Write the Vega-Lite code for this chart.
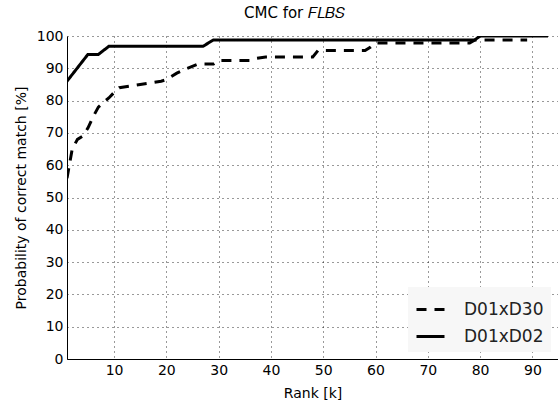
{
  "$schema": "https://vega.github.io/schema/vega-lite/v6.json",
  "autosize": {"type": "none"},
  "padding": {"left": 67, "top": 36, "right": 0, "bottom": 43},
  "width": 491,
  "height": 323,
  "background": "white",
  "title": {
    "text": "CMC for  𝐹𝐿𝐵𝑆",
    "font": "DejaVu Sans",
    "fontSize": 15,
    "fontWeight": "normal",
    "color": "black",
    "offset": 8,
    "dx": -18
  },
  "data": {
    "values": [
      {"rank": 1, "p": 56, "s": "D01xD30"},
      {"rank": 2, "p": 65, "s": "D01xD30"},
      {"rank": 3, "p": 68, "s": "D01xD30"},
      {"rank": 4, "p": 69, "s": "D01xD30"},
      {"rank": 5, "p": 71.5, "s": "D01xD30"},
      {"rank": 6, "p": 75, "s": "D01xD30"},
      {"rank": 7, "p": 78, "s": "D01xD30"},
      {"rank": 8, "p": 79.5, "s": "D01xD30"},
      {"rank": 9, "p": 80.8, "s": "D01xD30"},
      {"rank": 10, "p": 82.5, "s": "D01xD30"},
      {"rank": 11, "p": 84, "s": "D01xD30"},
      {"rank": 15, "p": 85, "s": "D01xD30"},
      {"rank": 19, "p": 86, "s": "D01xD30"},
      {"rank": 20, "p": 86.5, "s": "D01xD30"},
      {"rank": 22, "p": 88.5, "s": "D01xD30"},
      {"rank": 24, "p": 90, "s": "D01xD30"},
      {"rank": 26, "p": 91.3, "s": "D01xD30"},
      {"rank": 29, "p": 91.3, "s": "D01xD30"},
      {"rank": 30, "p": 92.4, "s": "D01xD30"},
      {"rank": 36, "p": 92.4, "s": "D01xD30"},
      {"rank": 37, "p": 93, "s": "D01xD30"},
      {"rank": 39, "p": 93.5, "s": "D01xD30"},
      {"rank": 48, "p": 93.5, "s": "D01xD30"},
      {"rank": 49, "p": 95.5, "s": "D01xD30"},
      {"rank": 58, "p": 95.5, "s": "D01xD30"},
      {"rank": 59, "p": 96.5, "s": "D01xD30"},
      {"rank": 60, "p": 97.8, "s": "D01xD30"},
      {"rank": 78, "p": 97.8, "s": "D01xD30"},
      {"rank": 79, "p": 98.8, "s": "D01xD30"},
      {"rank": 89, "p": 98.8, "s": "D01xD30"},
      {"rank": 1, "p": 86, "s": "D01xD02"},
      {"rank": 5, "p": 94.3, "s": "D01xD02"},
      {"rank": 7, "p": 94.3, "s": "D01xD02"},
      {"rank": 9, "p": 96.8, "s": "D01xD02"},
      {"rank": 27, "p": 96.8, "s": "D01xD02"},
      {"rank": 29, "p": 98.8, "s": "D01xD02"},
      {"rank": 79, "p": 98.8, "s": "D01xD02"},
      {"rank": 80, "p": 100, "s": "D01xD02"},
      {"rank": 93, "p": 100, "s": "D01xD02"}
    ]
  },
  "mark": {"type": "line", "color": "black", "strokeWidth": 3, "clip": true},
  "encoding": {
    "x": {
      "field": "rank",
      "type": "quantitative",
      "title": "Rank [k]",
      "scale": {"domain": [1, 94.9], "nice": false, "zero": false},
      "axis": {"values": [10, 20, 30, 40, 50, 60, 70, 80, 90], "titlePadding": 9}
    },
    "y": {
      "field": "p",
      "type": "quantitative",
      "title": "Probability of correct match [%]",
      "scale": {"domain": [0, 100], "nice": false},
      "axis": {"values": [0, 10, 20, 30, 40, 50, 60, 70, 80, 90, 100], "titlePadding": 8}
    },
    "strokeDash": {
      "field": "s",
      "type": "nominal",
      "scale": {"domain": ["D01xD30", "D01xD02"], "range": [[10, 8], [1, 0]]},
      "legend": {
        "title": null,
        "orient": "bottom-right",
        "offset": 7,
        "fillColor": "#f7f7f7",
        "padding": 7,
        "symbolType": "stroke",
        "symbolSize": 784,
        "symbolStrokeWidth": 3,
        "symbolStrokeColor": "black",
        "labelFontSize": 17,
        "labelFont": "DejaVu Sans",
        "labelColor": "#222",
        "labelOffset": 18,
        "rowPadding": 3
      }
    }
  },
  "config": {
    "view": {"stroke": null},
    "axis": {
      "labelFont": "DejaVu Sans",
      "labelFontSize": 14,
      "labelColor": "black",
      "titleFont": "DejaVu Sans",
      "titleFontSize": 14,
      "titleFontWeight": "normal",
      "titleColor": "black",
      "domainColor": "black",
      "domainWidth": 1,
      "ticks": false,
      "labelPadding": 4,
      "titlePadding": 4,
      "grid": true,
      "gridColor": "black",
      "gridDash": [1, 4],
      "gridWidth": 1,
      "gridOpacity": 0.8,
      "labelFlush": false,
      "labelOverlap": false
    }
  }
}
